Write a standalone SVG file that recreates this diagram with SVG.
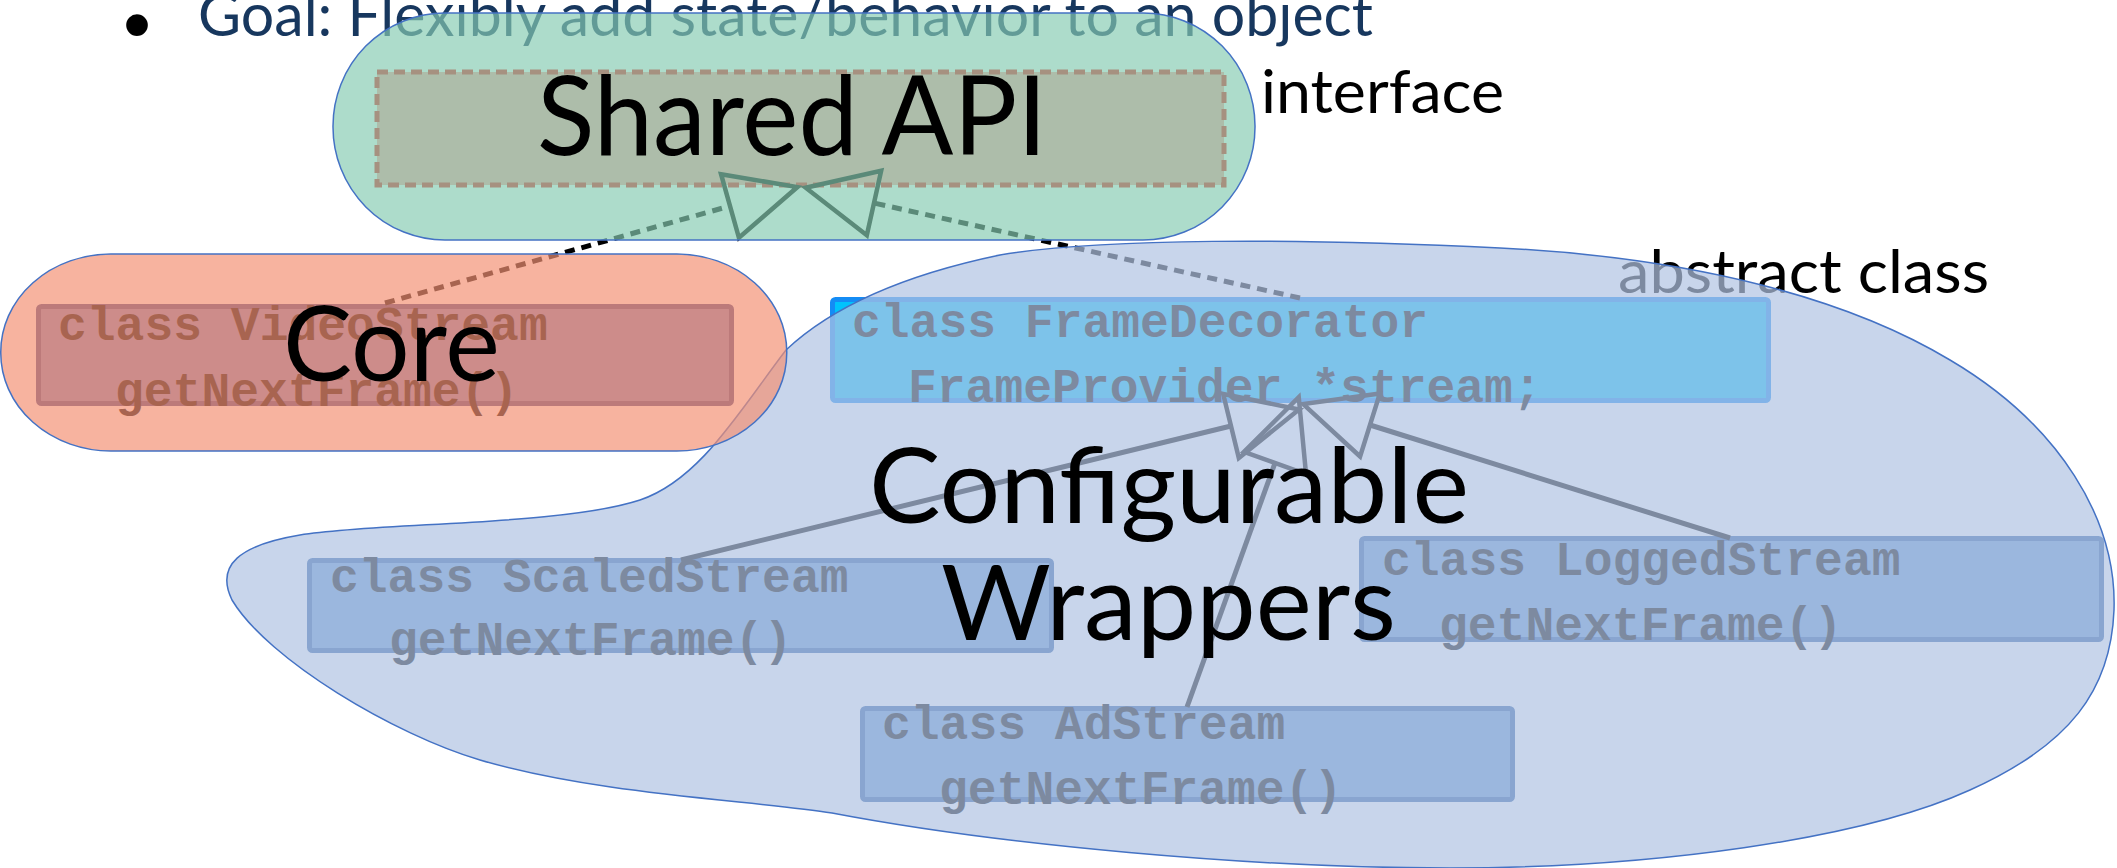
<svg xmlns="http://www.w3.org/2000/svg" width="2117" height="868" viewBox="0 0 2117 868">
  <style>
    .label { font-family: Lato, "Liberation Sans", sans-serif; fill: #000; }
    .title { font-family: Lato, "Liberation Sans", sans-serif; fill: #17375E; font-size: 60px; }
    .code { font-family: "Liberation Mono", "DejaVu Sans Mono", monospace; font-weight: bold; font-size: 48px; fill: #000; }
    .box { stroke-width: 5; }
    .box-core { fill: rgb(119,129,187); stroke: rgb(65,71,136); }
    .box-wrap { fill: rgb(102,153,211); stroke: rgb(41,92,163); }
    .box-deco { fill: rgb(0,195,252); stroke: rgb(20,140,245); }
    .edge { fill: none; stroke: #000; stroke-width: 5; marker-end: url(#hollow); }
    .dashed { stroke-dasharray: 10 7; }
    .region { stroke: #4472C4; stroke-width: 1.5; }
  </style>
  <defs>
    <!-- hollow triangle: the line ends at the base, the tip sits 70px further on -->
    <marker id="hollow" markerUnits="userSpaceOnUse" viewBox="-5 -40 80 80" refX="0" refY="0" markerWidth="80" markerHeight="80" orient="auto" overflow="visible">
      <path d="M0,-33 L70,0 L0,33 Z" fill="none" stroke="#000" stroke-width="4.5" stroke-linejoin="miter"/>
    </marker>
  </defs>

  <rect width="2117" height="868" fill="#fff"/>

  <!-- slide bullet -->
  <g id="title">
    <text x="137" y="52" font-family="Liberation Sans, sans-serif" font-size="80" text-anchor="middle" fill="#000">•</text>
    <text class="title" x="198" y="36" textLength="1175" lengthAdjust="spacingAndGlyphs">Goal: Flexibly add state/behavior to an object</text>
  </g>

  <!-- Shared API box -->
  <g id="shared-api">
    <rect x="377" y="72" width="847" height="113" fill="rgb(253,159,153)" stroke="rgb(234,22,22)" stroke-width="5" stroke-dasharray="11 6"/>
  </g>

  <g id="videostream">
    <rect class="box box-core" x="38.5" y="306.5" width="693" height="97" rx="3"/>
    <text class="code" x="58" y="340">class VideoStream</text>
    <text class="code" x="115" y="406">getNextFrame()</text>
  </g>

  <g id="framedecorator">
    <rect class="box box-deco" x="832.5" y="299.5" width="936" height="101" rx="3"/>
    <text class="code" x="852" y="337">class FrameDecorator</text>
    <text class="code" x="908" y="402">FrameProvider *stream;</text>
  </g>

  <g id="scaledstream">
    <rect class="box box-wrap" x="309.5" y="560.5" width="742" height="90" rx="3"/>
    <text class="code" x="330" y="592">class ScaledStream</text>
    <text class="code" x="389" y="655">getNextFrame()</text>
  </g>

  <g id="adstream">
    <rect class="box box-wrap" x="862.5" y="708.5" width="650" height="91" rx="3"/>
    <text class="code" x="882" y="739">class AdStream</text>
    <text class="code" x="939" y="804">getNextFrame()</text>
  </g>

  <g id="loggedstream">
    <rect class="box box-wrap" x="1361.5" y="538.5" width="740" height="101" rx="3"/>
    <text class="code" x="1382" y="575">class LoggedStream</text>
    <text class="code" x="1439" y="640">getNextFrame()</text>
  </g>

  <!-- side notes -->
  <g id="notes">
    <text class="label" x="1261" y="113" font-size="60" textLength="243" lengthAdjust="spacingAndGlyphs">interface</text>
    <text class="label" x="1618" y="293" font-size="60" textLength="371" lengthAdjust="spacingAndGlyphs">abstract class</text>
  </g>

  <!-- inheritance edges -->
  <g id="connectors">
    <path class="edge dashed" d="M385,303 L730,206"/>
    <path class="edge dashed" d="M1300,298 L874,203"/>
    <path class="edge" d="M681,560 L1231,426"/>
    <path class="edge" d="M1187,707 L1275,463"/>
    <path class="edge" d="M1730,538 L1370,425"/>
  </g>

  <!-- translucent grouping regions -->
  <g id="regions">
    <path id="wrapper-region" class="region" fill="rgb(177,195,227)" fill-opacity="0.706"
      d="M786,350 C820,318 880,280 1000,255 C1100,238 1300,238 1500,248 C1700,258 1850,300 1950,360 C2060,425 2117,520 2114,610 C2111,690 2070,745 1970,790 C1860,840 1650,868 1450,868 C1250,868 1000,845 832,813 C750,800 600,795 480,760 C395,735 268,660 232,600 C215,565 240,545 300,535 C380,522 560,526 640,500 C700,480 740,410 786,350 Z"/>
    <rect id="core-region" class="region" x="0.75" y="254" width="786" height="197" rx="110" ry="98" fill="rgb(243,145,116)" fill-opacity="0.69"/>
    <rect id="api-region" class="region" x="333" y="13" width="922" height="227" rx="112" ry="113" fill="rgb(134,203,178)" fill-opacity="0.68"/>
  </g>

  <g id="region-labels">
    <text class="label" x="537" y="155" font-size="110" textLength="510" lengthAdjust="spacingAndGlyphs">Shared API</text>
    <text class="label" x="283" y="381" font-size="105" textLength="217" lengthAdjust="spacingAndGlyphs">Core</text>
    <text class="label" x="869" y="523" font-size="105" textLength="600" lengthAdjust="spacingAndGlyphs">Configurable</text>
    <text class="label" x="941" y="640" font-size="105" textLength="455" lengthAdjust="spacingAndGlyphs">Wrappers</text>
  </g>
</svg>
